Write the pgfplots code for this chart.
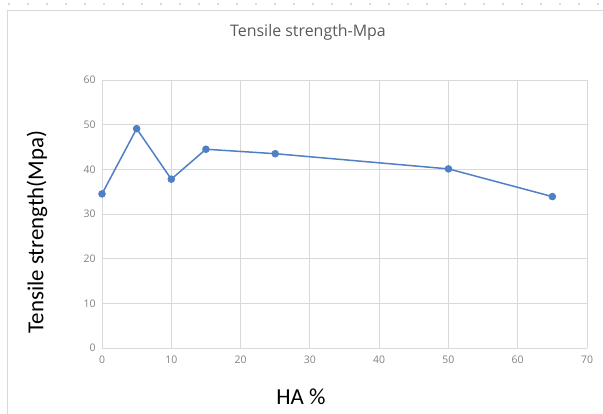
\documentclass[border=0pt]{standalone}
\usepackage{pgfplots}
\pgfplotsset{compat=1.18}
\usepackage{fontspec}
\setmainfont{Carlito}
\newfontfamily\segoe{Open Sans}
\definecolor{ser}{RGB}{80,127,196}
\definecolor{grd}{RGB}{217,217,217}
\definecolor{tck}{RGB}{128,128,128}
\begin{document}
\begin{tikzpicture}[x=1bp,y=1bp]
\path[use as bounding box] (0,0) rectangle (603,413);
\draw[grd, line width=0.8bp] (7,-2) -- (7,403) -- (605,403);
\draw[grd, line width=1.2bp, dash pattern=on 2bp off 17bp] (8,409) -- (603,409);
\begin{axis}[
  at={(102bp,65bp)}, anchor=south west,
  scale only axis, width=485bp, height=268bp,
  xmin=0, xmax=70, ymin=0, ymax=60,
  xtick={0,10,...,70}, ytick={0,10,...,60},
  grid=major, major grid style={grd, line width=0.8bp},
  axis line style={draw=none},
  axis x line*=bottom,
  tick style={draw=none},
  ticklabel style={font=\segoe\fontsize{10.5}{12}\selectfont, text=tck},
  /pgf/number format/assume math mode=true,
  xticklabel style={yshift=-4bp},
  yticklabel style={xshift=-3bp},
  clip=false,
]
\addplot[draw=grd, line width=0.8bp, forget plot] coordinates {(0,0) (70,0)};
\addplot[ser, line width=1.5bp, mark=*, mark size=3bp, mark options={fill=ser, draw=ser}]
  coordinates {(0,34.5) (5,49.1) (10,37.8) (15,44.5) (25,43.5) (50,40.1) (65,33.9)};
\end{axis}
\node[text=black!65, font=\segoe\fontsize{16}{18}\selectfont] at (308,381) {Tensile strength-Mpa};
\node[rotate=90, font=\fontsize{23}{26}\selectfont] at (37,181) {Tensile strength(Mpa)};
\node[font=\fontsize{23}{26}\selectfont] at (301,16) {HA \%};
\end{tikzpicture}
\end{document}
